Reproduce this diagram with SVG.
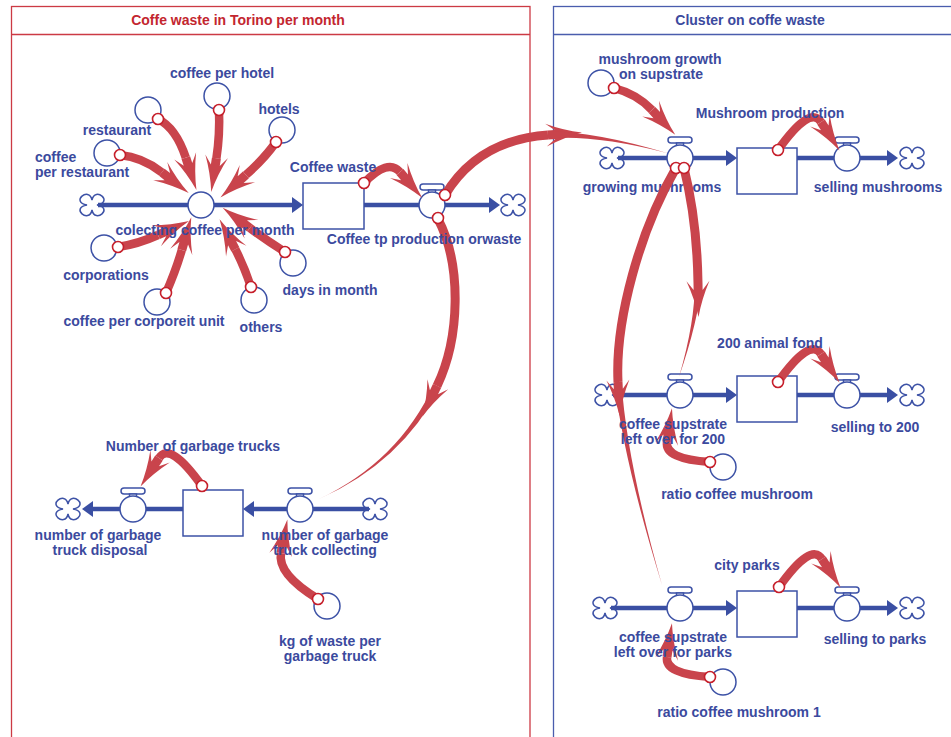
<svg xmlns="http://www.w3.org/2000/svg" width="951" height="737" viewBox="0 0 951 737">
<style>
.fr-red{fill:none;stroke:#cc3a44;stroke-width:1.3}
.fr-blue{fill:none;stroke:#4a5dad;stroke-width:1.3}
.title-red{font-family:"Liberation Sans",Arial,sans-serif;font-weight:bold;font-size:14px;fill:#c3262f;text-anchor:middle}
.title-blue{font-family:"Liberation Sans",Arial,sans-serif;font-weight:bold;font-size:14px;fill:#3b4a9e;text-anchor:middle}
.lbl{font-family:"Liberation Sans",Arial,sans-serif;font-weight:bold;font-size:14px;fill:#3b4a9e;text-anchor:middle}
.lbl-l{font-family:"Liberation Sans",Arial,sans-serif;font-weight:bold;font-size:14px;fill:#3b4a9e;text-anchor:start}
.pipe{stroke:#3a4fa3;stroke-width:4.5;fill:none}
.pipe-a{stroke:#3a4fa3;stroke-width:4.5;fill:none;marker-end:url(#pipeHead)}
.cloud,.stock,.valve,.aux{fill:#fff;stroke:#3d52a6;stroke-width:1.5}
.link{fill:none;stroke:#c9444c;stroke-width:8.5;marker-end:url(#head)}
.link-l{fill:none;stroke:#c9444c;stroke-width:9;marker-end:url(#head)}
.tail{fill:#c9444c}
.dot{fill:#fff;stroke:#c61f2b;stroke-width:1.6}
</style>
<defs>
<marker id="head" markerUnits="userSpaceOnUse" markerWidth="40" markerHeight="30" refX="0" refY="0" orient="auto" overflow="visible">
<path d="M34,0 Q16,-3.5 -2,-11.5 L7,-4.5 L0,-4.5 L0,4.5 L7,4.5 L-2,11.5 Q16,3.5 34,0 Z" fill="#c9444c"/>
</marker>
<marker id="pipeHead" markerUnits="userSpaceOnUse" markerWidth="14" markerHeight="20" refX="0" refY="0" orient="auto" overflow="visible">
<path d="M0,-8 L11,0 L0,8 Z" fill="#3a4fa3"/>
</marker>
<path id="cloudShape" d="M0,-5 C3,-19 22,-3 5,0 C22,3 3,19 0,5 C-3,19 -22,3 -5,0 C-22,-3 -3,-19 0,-5 Z"/>
<g id="handle"><rect x="-12" y="-21" width="24" height="6" rx="3"/><rect x="-3.5" y="-15" width="7" height="3"/></g>
</defs>

<g id="frames">
<rect x="11.5" y="6.5" width="518.5" height="740" class="fr-red"/>
<line x1="11" y1="34.5" x2="530" y2="34.5" class="fr-red"/>
<text x="238" y="25" class="title-red">Coffe waste in Torino per month</text>
<rect x="553.5" y="6.5" width="420" height="740" class="fr-blue"/>
<line x1="553" y1="34.5" x2="951" y2="34.5" class="fr-blue"/>
<text x="750" y="25" class="title-blue">Cluster on coffe waste</text>
</g>

<g id="nodes">
<g id="cloud-1"><use href="#cloudShape" x="92" y="205" class="cloud"/></g>
<g id="cloud-2"><use href="#cloudShape" x="513" y="205" class="cloud"/></g>
<g id="cloud-3"><use href="#cloudShape" x="612" y="158" class="cloud"/></g>
<g id="cloud-4"><use href="#cloudShape" x="912" y="158" class="cloud"/></g>
<g id="cloud-5"><use href="#cloudShape" x="607" y="395" class="cloud"/></g>
<g id="cloud-6"><use href="#cloudShape" x="912" y="395" class="cloud"/></g>
<g id="cloud-7"><use href="#cloudShape" x="605" y="608" class="cloud"/></g>
<g id="cloud-8"><use href="#cloudShape" x="912" y="608" class="cloud"/></g>
<g id="cloud-9"><use href="#cloudShape" x="68" y="509" class="cloud"/></g>
<g id="cloud-10"><use href="#cloudShape" x="375" y="509" class="cloud"/></g>

<g id="stock-coffee-waste"><rect x="303" y="183" width="61" height="46" class="stock"/></g>
<g id="stock-mushroom-production"><rect x="737" y="148" width="60" height="46" class="stock"/></g>
<g id="stock-200-animal-fond"><rect x="737" y="376" width="60" height="46" class="stock"/></g>
<g id="stock-city-parks"><rect x="737" y="591" width="60" height="46" class="stock"/></g>
<g id="stock-garbage-trucks"><rect x="183" y="490" width="60" height="46" class="stock"/></g>

<g id="valve-colecting"><circle cx="201" cy="205" r="13" class="valve"/></g>
<g id="valve-coffee-tp"><use href="#handle" x="432" y="205" class="valve"/><circle cx="432" cy="205" r="13" class="valve"/></g>
<g id="valve-growing"><use href="#handle" x="680" y="158" class="valve"/><circle cx="680" cy="158" r="13" class="valve"/>
<text x="652" y="192" class="lbl">growing mushrooms</text></g>
<g id="valve-selling-mushrooms"><use href="#handle" x="847" y="158" class="valve"/><circle cx="847" cy="158" r="13" class="valve"/></g>
<g id="valve-supstrate-200"><use href="#handle" x="680" y="395" class="valve"/><circle cx="680" cy="395" r="13" class="valve"/></g>
<g id="valve-selling-200"><use href="#handle" x="847" y="395" class="valve"/><circle cx="847" cy="395" r="13" class="valve"/></g>
<g id="valve-supstrate-parks"><use href="#handle" x="680" y="608" class="valve"/><circle cx="680" cy="608" r="13" class="valve"/></g>
<g id="valve-selling-parks"><use href="#handle" x="847" y="608" class="valve"/><circle cx="847" cy="608" r="13" class="valve"/></g>
<g id="valve-truck-disposal"><use href="#handle" x="133" y="509" class="valve"/><circle cx="133" cy="509" r="13" class="valve"/></g>
<g id="valve-truck-collecting"><use href="#handle" x="300" y="509" class="valve"/><circle cx="300" cy="509" r="13" class="valve"/></g>

<g id="aux-coffee-per-hotel"><circle cx="217" cy="96" r="13" class="aux"/></g>
<g id="aux-restaurant"><circle cx="148" cy="110" r="13" class="aux"/></g>
<g id="aux-hotels"><circle cx="282" cy="130" r="13" class="aux"/></g>
<g id="aux-coffee-per-restaurant"><circle cx="107" cy="153" r="13" class="aux"/></g>
<g id="aux-corporations"><circle cx="104" cy="248" r="13" class="aux"/></g>
<g id="aux-coffee-per-corporeit-unit"><circle cx="157" cy="302" r="13" class="aux"/></g>
<g id="aux-others"><circle cx="254" cy="300" r="13" class="aux"/></g>
<g id="aux-days-in-month"><circle cx="293" cy="263" r="13" class="aux"/></g>
<g id="aux-mushroom-growth"><circle cx="601" cy="83" r="13" class="aux"/></g>
<g id="aux-ratio"><circle cx="723" cy="467" r="13" class="aux"/></g>
<g id="aux-ratio-1"><circle cx="723" cy="682" r="13" class="aux"/></g>
<g id="aux-kg-waste"><circle cx="327" cy="606" r="13" class="aux"/></g>
</g>

<g id="connectors">
<g id="flows">
<line x1="98" y1="205" x2="188" y2="205" class="pipe"/>
<line x1="214" y1="205" x2="292" y2="205" class="pipe-a"/>
<line x1="364" y1="205" x2="419" y2="205" class="pipe"/>
<line x1="445" y1="205" x2="489" y2="205" class="pipe-a"/>
<line x1="618" y1="158" x2="667" y2="158" class="pipe"/>
<line x1="693" y1="158" x2="726" y2="158" class="pipe-a"/>
<line x1="797" y1="158" x2="834" y2="158" class="pipe"/>
<line x1="860" y1="158" x2="887" y2="158" class="pipe-a"/>
<line x1="613" y1="395" x2="667" y2="395" class="pipe"/>
<line x1="693" y1="395" x2="726" y2="395" class="pipe-a"/>
<line x1="797" y1="395" x2="834" y2="395" class="pipe"/>
<line x1="860" y1="395" x2="887" y2="395" class="pipe-a"/>
<line x1="611" y1="608" x2="667" y2="608" class="pipe"/>
<line x1="693" y1="608" x2="726" y2="608" class="pipe-a"/>
<line x1="797" y1="608" x2="834" y2="608" class="pipe"/>
<line x1="860" y1="608" x2="887" y2="608" class="pipe-a"/>
<line x1="369" y1="509" x2="313" y2="509" class="pipe"/>
<line x1="287" y1="509" x2="254" y2="509" class="pipe-a"/>
<line x1="183" y1="509" x2="146" y2="509" class="pipe"/>
<line x1="120" y1="509" x2="93" y2="509" class="pipe-a"/>
</g>
<g id="links">
<path d="M219,110 Q220,135 216.4,158.3" class="link"/>
<path d="M158,119 Q176,128 185.8,157.7" class="link"/>
<path d="M276,142 Q265,158 245.9,174.9" class="link"/>
<path d="M120,155 Q142,157 161.8,172.3" class="link"/>
<path d="M118,247 Q138,244 158,235" class="link"/>
<path d="M166,293 Q176,270 181.8,250" class="link"/>
<path d="M251,287 Q244,266 235.3,249.3" class="link"/>
<path d="M285,252 Q266,240 249.9,228" class="link"/>
<path d="M364,183 Q388,158 400,172" class="link"/>
<path d="M778,150 Q810,105 821,122" class="link"/>
<path d="M778,382 Q810,337 821,354" class="link"/>
<path d="M779,587 Q811,542 822,559" class="link"/>
<path d="M202,486 Q170,441 159,458" class="link"/>
<path d="M614,88 Q637,94 652,110" class="link"/>
<path d="M710,462 Q664.5,459 667,442" class="link"/>
<path d="M710,677 Q664.5,674 667,657" class="link"/>
<path d="M318,599 Q277,574 281,553" class="link"/>
<path d="M445,195 Q478,140 548,135" class="link-l"/>
<path d="M548.1,138.5 Q595.1,134.5 667,153 Q594.9,131.5 547.9,131.5 Z" class="tail"/>
<path d="M438,219 C462,265 460,338 437,386" class="link-l"/>
<path d="M440,387.5 Q401.3,462.7 319,499 Q398.7,461.3 434,384.5 Z" class="tail"/>
<path d="M684,168 Q697,220 698,283" class="link-l"/>
<path d="M701.5,283 Q698.5,320 679,377 Q695.5,320 694.5,283 Z" class="tail"/>
<path d="M676,168 C640,230 615,320 618,382" class="link-l"/>
<path d="M621.5,381.7 Q626.5,459.9 662,585 Q623.5,460.1 614.5,382.3 Z" class="tail"/>
<circle cx="219" cy="110" r="5.5" class="dot"/>
<circle cx="158" cy="119" r="5.5" class="dot"/>
<circle cx="276" cy="142" r="5.5" class="dot"/>
<circle cx="120" cy="155" r="5.5" class="dot"/>
<circle cx="118" cy="247" r="5.5" class="dot"/>
<circle cx="166" cy="293" r="5.5" class="dot"/>
<circle cx="251" cy="287" r="5.5" class="dot"/>
<circle cx="285" cy="252" r="5.5" class="dot"/>
<circle cx="364" cy="183" r="5.5" class="dot"/>
<circle cx="445" cy="195" r="5.5" class="dot"/>
<circle cx="438" cy="218" r="5.5" class="dot"/>
<circle cx="614" cy="88" r="5.5" class="dot"/>
<circle cx="676" cy="168" r="5.5" class="dot"/>
<circle cx="684" cy="168" r="5.5" class="dot"/>
<circle cx="778" cy="150" r="5.5" class="dot"/>
<circle cx="778" cy="382" r="5.5" class="dot"/>
<circle cx="779" cy="587" r="5.5" class="dot"/>
<circle cx="710" cy="462" r="5.5" class="dot"/>
<circle cx="710" cy="677" r="5.5" class="dot"/>
<circle cx="318" cy="599" r="5.5" class="dot"/>
<circle cx="202" cy="486" r="5.5" class="dot"/>
</g>
</g>

<g id="labels">
<text x="222" y="78" class="lbl">coffee per hotel</text>
<text x="117" y="135" class="lbl">restaurant</text>
<text x="279" y="114" class="lbl">hotels</text>
<text x="35" y="162" class="lbl-l">coffee</text>
<text x="35" y="177" class="lbl-l">per restaurant</text>
<text x="205" y="235" class="lbl">colecting coffee per month</text>
<text x="106" y="280" class="lbl">corporations</text>
<text x="144" y="326" class="lbl">coffee per corporeit unit</text>
<text x="261" y="332" class="lbl">others</text>
<text x="330" y="295" class="lbl">days in month</text>
<text x="333" y="172" class="lbl">Coffee waste</text>
<text x="424" y="244" class="lbl">Coffee tp production orwaste</text>
<text x="660" y="64" class="lbl">mushroom growth</text>
<text x="661" y="79" class="lbl">on supstrate</text>
<text x="770" y="118" class="lbl">Mushroom production</text>
<text x="878" y="192" class="lbl">selling mushrooms</text>
<text x="770" y="348" class="lbl">200 animal fond</text>
<text x="673" y="429" class="lbl">coffee supstrate</text>
<text x="673" y="444" class="lbl">left over for 200</text>
<text x="875" y="432" class="lbl">selling to 200</text>
<text x="737" y="499" class="lbl">ratio coffee mushroom</text>
<text x="747" y="570" class="lbl">city parks</text>
<text x="673" y="642" class="lbl">coffee supstrate</text>
<text x="673" y="657" class="lbl">left over for parks</text>
<text x="875" y="644" class="lbl">selling to parks</text>
<text x="739" y="717" class="lbl">ratio coffee mushroom 1</text>
<text x="193" y="451" class="lbl">Number of garbage trucks</text>
<text x="98" y="540" class="lbl">number of garbage</text>
<text x="100" y="555" class="lbl">truck disposal</text>
<text x="325" y="540" class="lbl">number of garbage</text>
<text x="325" y="555" class="lbl">truck collecting</text>
<text x="330" y="646" class="lbl">kg of waste per</text>
<text x="330" y="661" class="lbl">garbage truck</text>
</g>
</svg>
